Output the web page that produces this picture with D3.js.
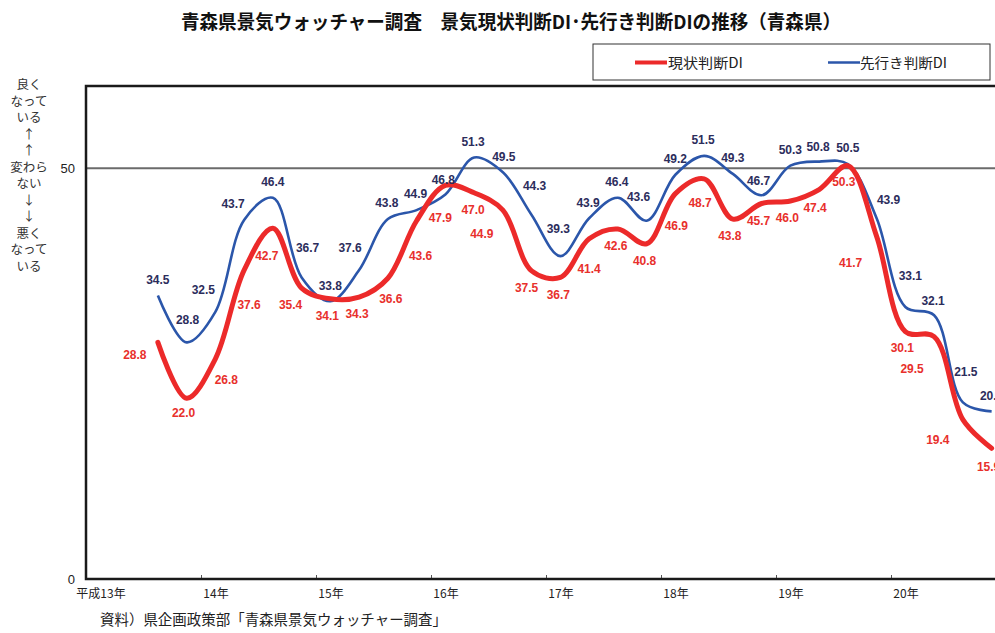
<!DOCTYPE html>
<html>
<head>
<meta charset="utf-8">
<script src="https://cdn.jsdelivr.net/npm/d3@7"></script>
<style>
  body { margin: 0; background: #fff; }
  svg { display: block; }
</style>
</head>
<body>
<svg id="chart" width="995" height="633"></svg>
<script>
// ---- data ----
const yearTicks = [13, 14, 15, 16, 17, 18, 19, 20];
const yearLabels = ["平成13年", "14年", "15年", "16年", "17年", "18年", "19年", "20年"];
const yTicks = [0, 50];

// 景気現状判断DI (quarterly)
const currentDI = [28.8, 22.0, 26.8, 37.6, 42.7, 35.4, 34.1, 34.3, 36.6, 43.6,
                   47.9, 47.0, 44.9, 37.5, 36.7, 41.4, 42.6, 40.8, 46.9, 48.7,
                   43.8, 45.7, 46.0, 47.4, 50.3, 41.7, 30.1, 29.5, 19.4, 15.9];
// 先行き判断DI (quarterly)
const outlookDI = [34.5, 28.8, 32.5, 43.7, 46.4, 36.7, 33.8, 37.6, 43.8, 44.9,
                   46.8, 51.3, 49.5, 44.3, 39.3, 43.9, 46.4, 43.6, 49.2, 51.5,
                   49.3, 46.7, 50.3, 50.8, 50.5, 43.9, 33.1, 32.1, 21.5, 20.4];

const seriesNames = ["現状判断DI", "先行き判断DI"];
const sideNote = ["良く", "なって", "いる", "↑", "↑", "変わら", "ない", "↓", "↓", "悪く", "なって", "いる"];

// ---- label nudges (px, relative to each point) ----
const currentLabelDx = [-23, -3, 11, 5, -6, -11, -3, -2, 3, 4, -5, -1, -21, -5, -2, 0, -2, -2, 1, -4,
                        -3, -3, -3, -4, -4, -26, -3, -22, -25, -3];
const currentLabelDy = [12, 14, 21, 35, 28, 17, 17, 17, 20, 35, 32, 17, 24, 17, 17, 30, 17, 17, 32, 24,
                        17, 17, 17, 18, 16, 26, 16, 32, 20, 18];
const outlookLabelDx = [0, 1, -12, -11, 0, 6, 0, -9, -1, -1, -2, -1, 1, 3, -2, -1, -1, -8, 0, -1,
                        0, -3, 0, -1, 0, 12, 5, -1, 3, 0];
const outlookLabelDy = [-16, -23, -22, -16, -16, -30, -16, -22, -16, -16, -15, -16, -16, -29, -27, -16, -16, -24, -16, -16,
                        -16, -15, -16, -15, -16, -19, -31, -15, -31, -16];

// survey timing: first survey in the 3rd quarter of 平成13年, then every quarter
const surveyTime = d3.range(currentDI.length).map(i => 13 + (i + 2.5) / 4);

// ---- layout ----
const plot = { left: 86, top: 86, bottom: 579 };
const svg = d3.select("#chart");
const W = 995;

const x = d3.scaleLinear().domain([13, 21]).range([plot.left, plot.left + 8 * 115]);
const y = d3.scaleLinear().domain([0, 60]).range([plot.bottom, plot.top]);

const RED = "#ec2a2a";
const RED_TEXT = "#e8302c";
const BLUE = "#2b56aa";
const BLUE_TEXT = "#2c2d5c";
const JP = "'Noto Sans CJK JP', 'Noto Sans', sans-serif";
const NUM = "'Liberation Sans', Arial, sans-serif";

// title
svg.append("text")
  .attr("x", 181).attr("y", 29)
  .attr("textLength", 660).attr("lengthAdjust", "spacingAndGlyphs")
  .style("font-family", JP).style("font-weight", 700).style("font-size", "19px")
  .attr("fill", "#111")
  .text("青森県景気ウォッチャー調査　景気現状判断DI･先行き判断DIの推移（青森県）");

// legend
const lg = svg.append("g");
lg.append("rect").attr("x", 593).attr("y", 44).attr("width", 397).attr("height", 36)
  .attr("fill", "#fff").attr("stroke", "#333").attr("stroke-width", 1);
const legendItems = [
  { name: seriesNames[0], color: RED, w: 4, x0: 635, tx: 668, len: 75 },
  { name: seriesNames[1], color: BLUE, w: 2.5, x0: 828, tx: 860, len: 87 }
];
legendItems.forEach(d => {
  lg.append("line").attr("x1", d.x0).attr("x2", d.x0 + 32).attr("y1", 62.5).attr("y2", 62.5)
    .attr("stroke", d.color).attr("stroke-width", d.w);
  lg.append("text").attr("x", d.tx).attr("y", 67.5)
    .attr("textLength", d.len).attr("lengthAdjust", "spacingAndGlyphs")
    .style("font-family", JP).style("font-size", "14px").attr("fill", "#222")
    .text(d.name);
});

// side note on the left
svg.append("g").selectAll("text").data(sideNote).join("text")
  .attr("x", 29).attr("y", (d, i) => 85 + i * 16.5)
  .attr("dy", "0.35em").attr("text-anchor", "middle")
  .style("font-family", JP).style("font-size", "12.5px").attr("fill", "#333")
  .text(d => d);

// reference line at 50
svg.append("line")
  .attr("x1", plot.left).attr("x2", W).attr("y1", y(50)).attr("y2", y(50))
  .attr("stroke", "#6b6b6b").attr("stroke-width", 2);

// y axis values
const yAxis = svg.append("g").attr("transform", `translate(${plot.left},0)`)
  .call(d3.axisLeft(y).tickValues(yTicks).tickSize(0).tickPadding(11));
yAxis.select(".domain").remove();
yAxis.selectAll("text").style("font-family", NUM).style("font-size", "13px").attr("fill", "#222");

// x axis: inward ticks at year boundaries
const xAxis = svg.append("g").attr("transform", `translate(0,${plot.bottom})`)
  .call(d3.axisBottom(x).tickValues(yearTicks.slice(1)).tickSize(-4).tickFormat(""));
xAxis.select(".domain").remove();
xAxis.selectAll(".tick line").attr("stroke", "#555").attr("stroke-width", 1);

svg.append("g").selectAll("text").data(yearTicks).join("text")
  .attr("x", d => x(d) + 15).attr("y", 598)
  .attr("text-anchor", "middle")
  .style("font-family", JP).style("font-size", "12px").attr("fill", "#222")
  .text((d, i) => yearLabels[i]);

// plot frame (top, left, bottom)
svg.append("path")
  .attr("d", `M${W},${plot.top}H${plot.left}V${plot.bottom}H${W}`)
  .attr("fill", "none").attr("stroke", "#1a1a1a").attr("stroke-width", 2.5);

// series lines
const line = d3.line().curve(d3.curveCatmullRom.alpha(0.5))
  .x((d, i) => x(surveyTime[i])).y(d => y(d));

svg.append("path").datum(outlookDI)
  .attr("d", line).attr("fill", "none").attr("stroke", BLUE).attr("stroke-width", 2.6)
  .attr("stroke-linejoin", "round");
svg.append("path").datum(currentDI)
  .attr("d", line).attr("fill", "none").attr("stroke", RED).attr("stroke-width", 5)
  .attr("stroke-linejoin", "round").attr("stroke-linecap", "round");

// value labels
function drawLabels(values, dx, dy, color) {
  svg.append("g").selectAll("text").data(values).join("text")
    .attr("x", (d, i) => x(surveyTime[i]) + dx[i])
    .attr("y", (d, i) => y(d) + dy[i])
    .attr("dy", "0.36em").attr("text-anchor", "middle")
    .style("font-family", NUM).style("font-weight", 700).style("font-size", "12px")
    .attr("fill", color)
    .text(d => d.toFixed(1));
}
drawLabels(outlookDI, outlookLabelDx, outlookLabelDy, BLUE_TEXT);
drawLabels(currentDI, currentLabelDx, currentLabelDy, RED_TEXT);

// source
svg.append("text")
  .attr("x", 100).attr("y", 625)
  .attr("textLength", 347).attr("lengthAdjust", "spacingAndGlyphs")
  .style("font-family", JP).style("font-size", "14.5px").attr("fill", "#222")
  .text("資料）県企画政策部「青森県景気ウォッチャー調査」");
</script>
</body>
</html>
